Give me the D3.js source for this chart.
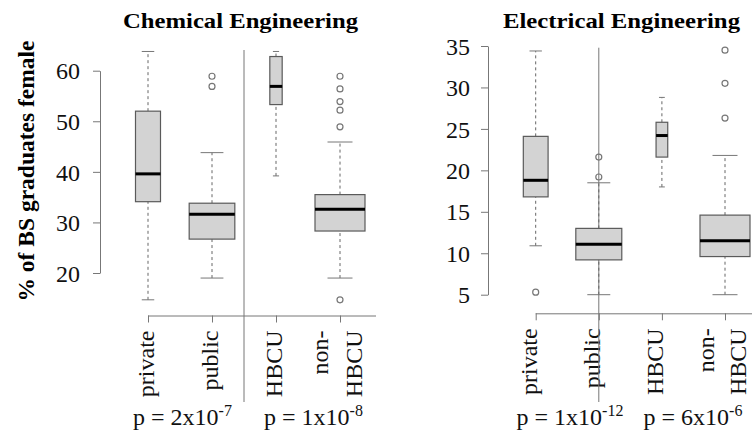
<!DOCTYPE html>
<html>
<head>
<meta charset="utf-8">
<script src="https://cdn.jsdelivr.net/npm/d3@7"></script>
<style>
  body { margin: 0; background: #fff; }
</style>
</head>
<body>
<div id="chart"></div>
<script>
// ---- data ----
var groups = ['private', 'public', 'HBCU', 'non-HBCU'];

// Chemical Engineering: [lower whisker, Q1, median, Q3, upper whisker]
var chemStats = [
  [14.7, 34.1, 39.6, 52.0, 63.8],
  [19.0, 26.7, 31.6, 33.8, 43.8],
  [39.2, 53.3, 56.9, 62.8, 63.8],
  [19.0, 28.3, 32.6, 35.5, 45.9]
];
var chemOutliers = [[], [58.9, 56.9], [], [58.9, 56.4, 53.9, 52.2, 48.9, 14.7]];
var chemN = [45, 150, 11, 180];
var chemTicks = [20, 30, 40, 50, 60];
var chemP = [['2', '-7'], ['1', '-8']];

// Electrical Engineering
var elecStats = [
  [10.9, 16.8, 18.8, 24.1, 34.4],
  [5.0, 9.2, 11.1, 13.0, 18.5],
  [18.0, 21.6, 24.2, 25.8, 28.8],
  [5.0, 9.6, 11.5, 14.6, 21.8]
];
var elecOutliers = [[5.3], [19.2, 21.6], [], [34.5, 30.5, 26.3]];
var elecN = [54, 186, 12, 220];
var elecTicks = [5, 10, 15, 20, 25, 30, 35];
var elecP = [['1', '-12'], ['6', '-6']];

var W = 752, H = 431;
var FONT = "'Liberation Serif', 'Times New Roman', serif";
var svg = d3.select('#chart').append('svg')
  .attr('width', W).attr('height', H)
  .attr('font-family', FONT);

var boxFill = '#d3d3d3', boxStroke = '#5a5a5a', lineCol = '#777';

function panel(cfg) {
  var g = svg.append('g');
  var y = d3.scaleLinear().domain(cfg.yDomain).range(cfg.yRange);
  var x = d3.scaleLinear().domain([1, 4]).range(cfg.xRange);
  var w = d3.scaleSqrt().domain([0, d3.max(cfg.n)]).range([0, 50]);

  // title
  g.append('text')
    .attr('x', cfg.titleX).attr('y', 28)
    .attr('text-anchor', 'middle')
    .attr('font-family', FONT)
    .attr('font-weight', 'bold').attr('font-size', 22)
    .attr('textLength', cfg.titleLen).attr('lengthAdjust', 'spacingAndGlyphs')
    .text(cfg.title);

  // y axis (R style: line from first to last tick)
  var yAxis = d3.axisLeft(y).tickValues(cfg.ticks).tickSize(7).tickPadding(cfg.tickPad)
    .tickSizeOuter(0);
  var ya = g.append('g').attr('transform', 'translate(' + cfg.yAxisX + ',0)').call(yAxis)
    .attr('font-family', FONT).attr('font-size', 24);
  ya.select('.domain').attr('stroke', lineCol);
  ya.selectAll('.tick line').attr('stroke', lineCol);
  ya.selectAll('.tick text').attr('fill', '#111').attr('dy', '0.34em');

  // x axis
  var xAxis = d3.axisBottom(x).tickValues([1, 2, 3, 4]).tickSize(7).tickFormat('').tickSizeOuter(0);
  var xa = g.append('g').attr('transform', 'translate(0,' + cfg.xAxisY + ')').call(xAxis);
  xa.select('.domain').attr('d', 'M' + x(1) + ',0.5H' + cfg.xAxisEnd).attr('stroke', lineCol);
  xa.selectAll('.tick line').attr('stroke', lineCol);

  // group labels (rotated)
  groups.forEach(function (name, i) {
    var parts = name === 'non-HBCU' ? ['non-', 'HBCU'] : [name];
    var t = g.append('text')
      .attr('transform', 'translate(' + x(i + 1) + ',' + (cfg.xAxisY + 15) + ') rotate(-90)')
      .attr('text-anchor', 'end')
      .attr('font-family', FONT)
      .attr('font-size', 24).attr('fill', '#111');
    parts.forEach(function (p, k) {
      t.append('tspan')
        .attr('x', 0)
        .attr('y', parts.length === 1 ? cfg.labOff : cfg.twoLine[k])
        .text(p);
    });
  });

  // separator
  g.append('line')
    .attr('x1', x(cfg.sepAt)).attr('x2', x(cfg.sepAt))
    .attr('y1', cfg.sepTop).attr('y2', 402)
    .attr('stroke', lineCol).attr('stroke-width', 1);

  // boxes
  cfg.stats.forEach(function (s, i) {
    var cx = x(i + 1), bw = w(cfg.n[i]);
    var b = g.append('g');
    // whiskers
    [[s[0], s[1]], [s[3], s[4]]].forEach(function (seg) {
      b.append('line')
        .attr('x1', cx).attr('x2', cx)
        .attr('y1', y(seg[0])).attr('y2', y(seg[1]))
        .attr('stroke', '#666').attr('stroke-dasharray', '3,3');
    });
    [s[0], s[4]].forEach(function (v) {
      b.append('line')
        .attr('x1', cx - bw / 4).attr('x2', cx + bw / 4)
        .attr('y1', y(v)).attr('y2', y(v))
        .attr('stroke', '#777');
    });
    b.append('rect')
      .attr('x', cx - bw / 2).attr('width', bw)
      .attr('y', y(s[3])).attr('height', y(s[1]) - y(s[3]))
      .attr('fill', boxFill).attr('stroke', boxStroke).attr('stroke-width', 1.2);
    b.append('line')
      .attr('x1', cx - bw / 2).attr('x2', cx + bw / 2)
      .attr('y1', y(s[2])).attr('y2', y(s[2]))
      .attr('stroke', '#000').attr('stroke-width', 3);
    b.selectAll('circle').data(cfg.outliers[i]).enter().append('circle')
      .attr('cx', cx).attr('cy', function (d) { return y(d); })
      .attr('r', 3).attr('fill', 'none').attr('stroke', '#777').attr('stroke-width', 1.2);
  });

  // p-values
  cfg.p.forEach(function (pv, k) {
    var t = g.append('text')
      .attr('x', cfg.pX[k]).attr('y', 425)
      .attr('text-anchor', 'middle')
      .attr('font-family', FONT)
      .attr('font-size', 24).attr('fill', '#111');
    t.append('tspan').text('p = ' + pv[0] + 'x10');
    t.append('tspan').attr('dy', -9).attr('font-size', 16).text(pv[1]);
  });
}

panel({
  title: 'Chemical Engineering', titleX: 240.5, titleLen: 235,
  yDomain: [20, 60], yRange: [273, 70.7], ticks: chemTicks, yAxisX: 100, tickPad: 13,
  xRange: [148, 340], xAxisY: 315.5, xAxisEnd: 376,
  labOff: 6, twoLine: [-12, 22],
  stats: chemStats, outliers: chemOutliers, n: chemN,
  sepAt: 2.5, sepTop: 50, p: chemP, pX: [182.5, 313.5]
});

panel({
  title: 'Electrical Engineering', titleX: 621.5, titleLen: 237,
  yDomain: [5, 35], yRange: [294.7, 46], ticks: elecTicks, yAxisX: 488, tickPad: 11,
  xRange: [535.7, 725], xAxisY: 313.3, xAxisEnd: 760,
  labOff: 1, twoLine: [-11, 21],
  stats: elecStats, outliers: elecOutliers, n: elecN,
  sepAt: 2, sepTop: 47.7, p: elecP, pX: [570, 693]
});

// y label
svg.append('text')
  .attr('transform', 'translate(34,171) rotate(-90)')
  .attr('text-anchor', 'middle')
  .attr('font-family', FONT)
  .attr('font-weight', 'bold').attr('font-size', 23.5)
  .text('% of BS graduates female');
</script>
</body>
</html>
